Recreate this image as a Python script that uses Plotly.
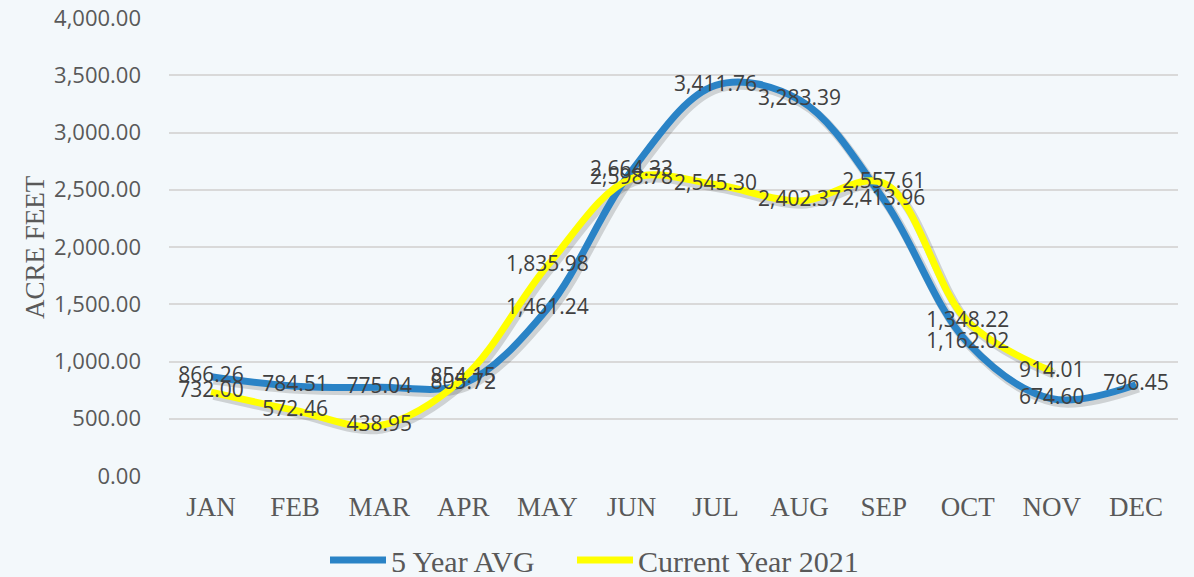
import plotly.graph_objects as go

months = ["JAN", "FEB", "MAR", "APR", "MAY", "JUN", "JUL", "AUG", "SEP", "OCT", "NOV", "DEC"]
avg_5yr = [866.26, 784.51, 775.04, 805.72, 1461.24, 2664.33, 3411.76, 3283.39, 2413.96, 1162.02, 674.60, 796.45]
current_2021 = [732.00, 572.46, 438.95, 854.15, 1835.98, 2598.78, 2545.30, 2402.37, 2557.61, 1348.22, 914.01, None]

y_ticks = [0, 500, 1000, 1500, 2000, 2500, 3000, 3500, 4000]

BLUE = "#2A83C6"
YELLOW = "#FFFF00"
BG = "#F3F8FB"
TEXT = "#595959"

# (name, values, colour, legend id)
series = [("5 Year AVG", avg_5yr, BLUE, "legend"), ("Current Year 2021", current_2021, YELLOW, "legend2")]

fig = go.Figure()

# invisible carrier trace so the base axes (ticks + gridlines) are rendered
fig.add_trace(go.Scatter(
    x=months, y=avg_5yr, mode="lines", line=dict(width=0, color="rgba(0,0,0,0)"),
    hoverinfo="skip", showlegend=False,
))

# soft drop shadow under each line (drawn on a slightly offset overlay axis)
for name, vals, color, lg in series:
    fig.add_trace(go.Scatter(
        x=months, y=vals, mode="lines", xaxis="x2", yaxis="y2",
        line=dict(color="rgba(60,60,60,0.20)", width=9, shape="spline", smoothing=1.0),
        hoverinfo="skip", showlegend=False,
    ))

# the lines themselves
for name, vals, color, lg in series:
    fig.add_trace(go.Scatter(
        x=months, y=vals, mode="lines", name=name, xaxis="x3", yaxis="y3", legend=lg,
        line=dict(color=color, width=7, shape="spline", smoothing=1.0),
    ))

# value labels drawn above both lines
for name, vals, color, lg in series:
    fig.add_trace(go.Scatter(
        x=months, y=vals, mode="text", xaxis="x3", yaxis="y3",
        text=[f"{v:,.2f}" if v is not None else "" for v in vals],
        textposition="middle center",
        textfont=dict(family="Open Sans", size=21, color="#404040"),
        hoverinfo="skip", showlegend=False,
    ))

fig.add_annotation(
    text="ACRE FEET", textangle=-90, xref="paper", yref="paper",
    x=(35 - 169) / 1009, y=0.5, xanchor="center", yanchor="middle", showarrow=False,
    font=dict(family="Liberation Serif", size=27, color=TEXT),
)

xr = [-0.5, 11.5]
yr = [0, 4000]
hidden = dict(visible=False, showgrid=False, zeroline=False)

legend_style = dict(
    orientation="h", xref="container", yref="container", xanchor="left",
    y=(577 - 560) / 577, yanchor="middle",
    font=dict(family="Liberation Serif", size=30, color=TEXT),
    itemwidth=56, bgcolor="rgba(0,0,0,0)",
)

fig.update_layout(
    width=1194, height=577,
    margin=dict(l=169, r=16, t=18, b=101, autoexpand=False),
    paper_bgcolor=BG, plot_bgcolor=BG,
    xaxis=dict(
        type="category", categoryorder="array", categoryarray=months, range=xr,
        showgrid=False, zeroline=False, showline=False, ticks="", automargin=False,
        ticklabelstandoff=12,
        tickfont=dict(family="Liberation Serif", size=27, color=TEXT),
    ),
    yaxis=dict(
        range=yr, tickvals=y_ticks, tickformat=",.2f", automargin=False,
        showgrid=True, gridcolor="#D9D9D9", gridwidth=1.5, zeroline=False, showline=False,
        ticklabelstandoff=27,
        tickfont=dict(family="Open Sans", size=22, color=TEXT),
    ),
    xaxis2=dict(type="category", categoryorder="array", categoryarray=months,
                range=[xr[0] - 0.03, xr[1] - 0.03], overlaying="x", **hidden),
    yaxis2=dict(range=[yr[0] + 28, yr[1] + 28], overlaying="y", **hidden),
    xaxis3=dict(type="category", categoryorder="array", categoryarray=months,
                range=xr, overlaying="x", **hidden),
    yaxis3=dict(range=yr, overlaying="y", **hidden),
    legend=dict(x=325 / 1194, **legend_style),
    legend2=dict(x=572 / 1194, **legend_style),
    showlegend=True,
)

fig.write_html("out.html")
